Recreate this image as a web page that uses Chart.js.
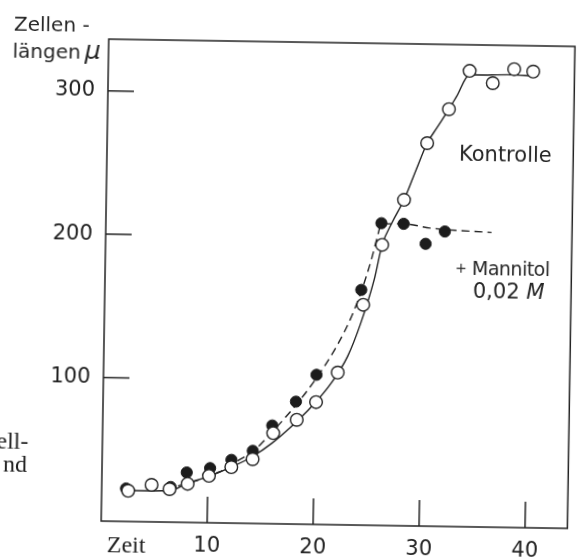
<!DOCTYPE html>
<html lang="de">
<head>
<meta charset="utf-8">
<title>Zellenlängen – Kontrolle und Mannitol</title>
<script src="https://cdn.jsdelivr.net/npm/chart.js@4.4.1/dist/chart.umd.min.js"></script>
<style>
  html, body { margin: 0; padding: 0; background: #fff; overflow: hidden; }
  #sheet { position: relative; width: 579px; height: 558px; transform: rotate(0.9deg); transform-origin: 289.5px 279px; }
  #chart { position: absolute; left: 0; top: 0; }
  .lbl { position: absolute; white-space: nowrap; color: #262626; font-family: "DejaVu Sans", sans-serif; font-weight: normal; line-height: 1; }
  .serif { font-family: "Liberation Serif", "DejaVu Serif", serif; font-weight: normal; color: #222; }
</style>
</head>
<body>
<div id="sheet">
  <canvas id="chart" width="579" height="558"></canvas>
  <div class="lbl" style="left:10px; top:18px; font-size:20px;">Zellen -</div>
  <div class="lbl" style="left:9px; top:41px; font-size:20px;">längen<i style="font-size:25px; margin-left:4px;">μ</i></div>
  <div class="lbl" style="left:457px; top:141px; font-size:21px;">Kontrolle</div>
  <div class="lbl" style="left:455px; top:256px; font-size:19px; letter-spacing:-0.5px;"><span style="font-size:14px; vertical-align:2px;">+</span> Mannitol</div>
  <div class="lbl" style="left:473px; top:278px; font-size:21px;">0,02 <i>M</i></div>
  <div class="lbl serif" style="left:111px; top:535px; font-size:24px;">Zeit</div>
  <div class="lbl serif" style="left:-1px; top:433px; font-size:24px;">ell-</div>
  <div class="lbl serif" style="left:6px; top:456px; font-size:24px;">nd</div>
</div>
<script>
// Kontrolle: gemessene Zellenlängen (offene Kreise)
const kontrolleZeit   = [2.5, 4.7, 6.4, 8.1, 10.1, 12.2, 14.2, 16.1, 18.3, 20.1, 22.1, 24.4, 26.1, 28.1, 30.2, 32.2, 34.1, 36.3, 38.3, 40.1];
const kontrolleLaenge = [21.4, 25.8, 23.0, 26.9, 32.7, 39.0, 44.8, 63.2, 72.7, 85.3, 106.1, 153.6, 195.6, 227.2, 267.0, 290.9, 317.8, 309.5, 319.5, 318.0];

// + Mannitol 0,02 M: gemessene Zellenlängen (volle Kreise)
const mannitolZeit   = [2.3, 6.5, 8.0, 10.2, 12.2, 14.2, 16.0, 18.2, 20.1, 24.2, 26.0, 28.1, 30.2, 32.0];
const mannitolLaenge = [23.0, 24.5, 34.8, 38.1, 44.1, 50.6, 68.5, 85.4, 104.3, 164.0, 210.7, 210.5, 196.8, 205.6];

// ausgeglichene Kurve, Kontrolle (durchgezogen)
const kontrolleKurveZeit   = [2.5, 6.4, 8.1, 10.1, 12.3, 14.2, 16.0, 17.8, 19.7, 21.5, 23.0, 24.2, 25.4, 26.1, 27.0, 28.1, 29.2, 30.2, 31.1, 32.2, 32.9, 34.1, 34.8, 37.7, 40.1];
const kontrolleKurveLaenge = [21.6, 22.0, 27.4, 32.3, 39.4, 46.7, 56.2, 68.0, 82.2, 98.7, 117.4, 140.9, 171.2, 195.6, 211.2, 227.2, 248.4, 267.0, 277.8, 290.9, 299.8, 315.1, 315.1, 315.5, 315.1];

// ausgeglichene Kurve, Mannitol (gestrichelt)
const mannitolKurveZeit   = [7.2, 8.7, 9.7, 10.8, 11.5, 12.8, 14.2, 16.0, 18.2, 20.1, 22.0, 23.3, 24.2, 25.1, 25.6, 26.0, 28.1, 30.6, 36.4];
const mannitolKurveLaenge = [25.4, 28.6, 31.1, 34.7, 37.1, 43.5, 50.0, 64.0, 83.0, 102.0, 125.0, 145.0, 163.0, 185.0, 200.0, 210.0, 210.5, 207.8, 205.4];

// Achsenteilung
const xTickWerte = [10, 20, 30, 40];
const yTickWerte = [100, 200, 300];

const ink = '#222';
const pairs = (xs, ys) => xs.map((x, i) => ({ x, y: ys[i] }));

// Rahmen und nach innen gerichtete Teilstriche
const rahmen = {
  id: 'rahmen',
  beforeDatasetsDraw(chart) {
    const { ctx, chartArea: a, scales: { x, y } } = chart;
    ctx.save();
    ctx.strokeStyle = ink;
    ctx.lineWidth = 1.5;
    ctx.strokeRect(a.left, a.top, a.right - a.left, a.bottom - a.top);
    ctx.beginPath();
    yTickWerte.forEach(v => {
      const py = y.getPixelForValue(v);
      ctx.moveTo(a.left, py); ctx.lineTo(a.left + 26, py);
    });
    xTickWerte.forEach(v => {
      const px = x.getPixelForValue(v);
      ctx.moveTo(px, a.bottom); ctx.lineTo(px, a.bottom - 26);
    });
    ctx.stroke();
    ctx.restore();
  }
};

const tickFont = { family: '"DejaVu Sans", sans-serif', size: 21, weight: 'normal' };

new Chart(document.getElementById('chart'), {
  type: 'scatter',
  data: {
    datasets: [
      {
        label: 'Kontrolle',
        data: pairs(kontrolleZeit, kontrolleLaenge),
        showLine: false,
        pointRadius: 6.3,
        pointBackgroundColor: '#fff',
        pointBorderColor: ink,
        pointBorderWidth: 1.4
      },
      {
        label: '+ Mannitol 0,02 M',
        data: pairs(mannitolZeit, mannitolLaenge),
        showLine: false,
        pointRadius: 5.6,
        pointBackgroundColor: '#1c1c1c',
        pointBorderColor: '#1c1c1c',
        pointBorderWidth: 1
      },
      {
        label: 'Kontrolle (Kurve)',
        data: pairs(kontrolleKurveZeit, kontrolleKurveLaenge),
        showLine: true,
        pointRadius: 0,
        borderColor: ink,
        borderWidth: 1.4,
        cubicInterpolationMode: 'monotone'
      },
      {
        label: 'Mannitol (Kurve)',
        data: pairs(mannitolKurveZeit, mannitolKurveLaenge),
        showLine: true,
        pointRadius: 0,
        borderColor: ink,
        borderWidth: 1.4,
        borderDash: [8, 5],
        cubicInterpolationMode: 'monotone'
      }
    ]
  },
  options: {
    responsive: false,
    animation: false,
    layout: { padding: { top: 42, right: 3, left: 0, bottom: 0 } },
    plugins: { legend: { display: false }, tooltip: { enabled: false } },
    scales: {
      x: {
        type: 'linear', min: 0, max: 44,
        grid: { display: false, drawTicks: false },
        border: { display: false },
        afterBuildTicks: s => { s.ticks = xTickWerte.map(value => ({ value })); },
        afterFit: s => { s.height = 34; },
        ticks: { color: ink, font: tickFont, padding: 11, maxRotation: 0 }
      },
      y: {
        type: 'linear', min: 0, max: 336,
        grid: { display: false, drawTicks: false },
        border: { display: false },
        afterBuildTicks: s => { s.ticks = yTickWerte.map(value => ({ value })); },
        afterFit: s => { s.width = 105; },
        ticks: { color: ink, font: tickFont, padding: 13 }
      }
    }
  },
  plugins: [rahmen]
});
</script>
</body>
</html>
